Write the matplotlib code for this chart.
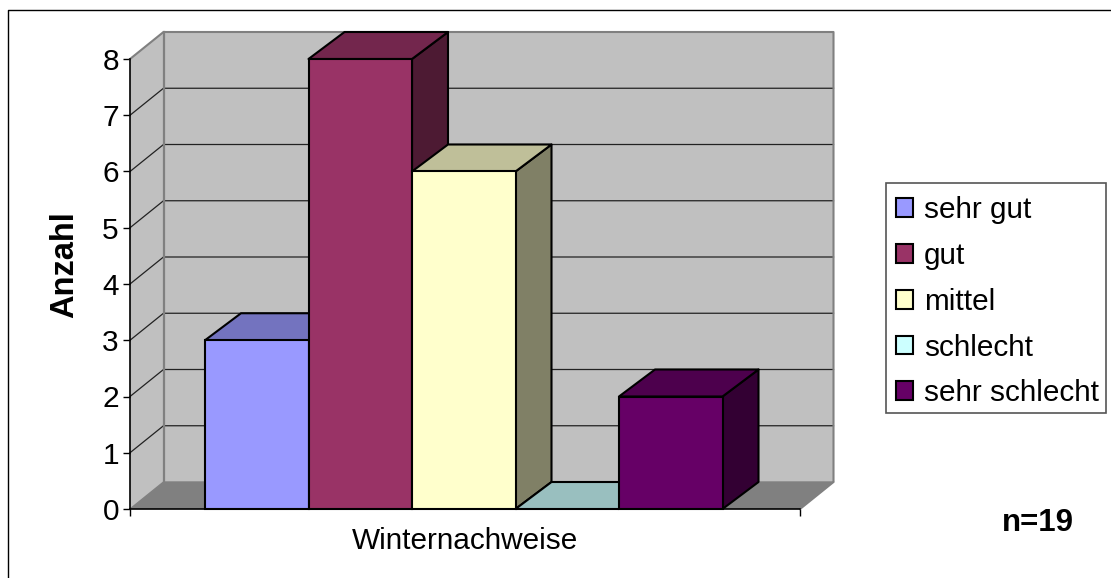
import matplotlib
matplotlib.use("Agg")
import matplotlib.pyplot as plt
from matplotlib.lines import Line2D
from matplotlib.patches import Polygon, Patch, Rectangle

plt.rcParams['font.family'] = ['Liberation Sans', 'DejaVu Sans']

# --- data ---
categories = ["sehr gut", "gut", "mittel", "schlecht", "sehr schlecht"]
values = [3, 8, 6, 0, 2]
group_label = "Winternachweise"
y_label = "Anzahl"
note = "n=19"
y_ticks = list(range(0, 9))

# --- styles ---
front_colors = ["#9999FF", "#993366", "#FFFFCC", "#CCFFFF", "#660066"]
top_colors = ["#7373BF", "#73264D", "#BFBF99", "#99BFBF", "#4D004D"]
side_colors = ["#4D4D80", "#4D1A33", "#808066", "#668080", "#330033"]
WALL = "#C0C0C0"
FLOOR = "#808080"
EDGE = "#808080"

W, H = 1111, 578
fig = plt.figure(figsize=(W / 100, H / 100), dpi=100, facecolor="white")
L, R, T, B = 130, 800, 59, 509
ax = fig.add_axes([L / W, 1 - B / H, (R - L) / W, (B - T) / H])
ax.set_xlim(0, 1)
ax.set_ylim(0, 8)
ax.set_facecolor("none")

# 3-D depth expressed in data units
wx = 33.5 / (R - L)
wy = 27 / (B - T) * 8
bx = 36 / (R - L)
by = wy
ymax = y_ticks[-1]

# walls and floor
ax.add_patch(Polygon([(0, 0), (wx, wy), (wx, ymax + wy), (0, ymax)], fc=WALL, ec="none", zorder=1, clip_on=False))
ax.add_patch(Polygon([(wx, wy), (1 + wx, wy), (1 + wx, ymax + wy), (wx, ymax + wy)], fc=WALL, ec="none", zorder=1, clip_on=False))
ax.add_patch(Polygon([(0, 0), (1, 0), (1 + wx, wy), (wx, wy)], fc=FLOOR, ec="none", zorder=1, clip_on=False))

# grid lines
for t in y_ticks[1:-1]:
    ax.plot([0, wx, 1 + wx], [t, t + wy, t + wy], color="#222222", lw=0.9, zorder=2, clip_on=False)

# wall borders
ax.plot([0, wx, 1 + wx, 1 + wx, 1], [ymax, ymax + wy, ymax + wy, wy, 0], color=EDGE, lw=1.5, zorder=2, clip_on=False)
ax.plot([wx, wx], [wy, ymax + wy], color=EDGE, lw=1.6, zorder=2, clip_on=False)
ax.plot([0, wx, 1 + wx], [0, wy, wy], color=EDGE, lw=1.0, zorder=2, clip_on=False)

# bars
bw = 103.5 / (R - L)
x0 = 75 / (R - L)
z = 3
for i, v in enumerate(values):
    x = x0 + i * bw
    if v > 0:
        ax.add_patch(Polygon([(x + bw, 0), (x + bw + bx, by), (x + bw + bx, v + by), (x + bw, v)],
                             fc=side_colors[i], ec="black", lw=1.5, joinstyle="round", zorder=z, clip_on=False))
    ax.add_patch(Polygon([(x, v), (x + bw, v), (x + bw + bx, v + by), (x + bx, v + by)],
                         fc=top_colors[i], ec="black", lw=1.5, joinstyle="round", zorder=z, clip_on=False))
    if v > 0:
        ax.bar(x, v, width=bw, align="edge", color=front_colors[i], edgecolor="black", linewidth=1.5, zorder=z + 0.5, clip_on=False)
    z += 1

# axes
for s in ("top", "right"):
    ax.spines[s].set_visible(False)
for s in ("left", "bottom"):
    ax.spines[s].set_linewidth(1.2)
    ax.spines[s].set_color("black")
    ax.spines[s].set_zorder(20)
ax.set_yticks(y_ticks)
ax.set_xticks([0, 1])
ax.set_xticklabels([])
ax.set_xticks([0.5], [group_label], minor=True)
ax.tick_params(axis="y", length=5, width=1, labelsize=21.5, pad=3)
ax.tick_params(axis="x", which="major", length=5, width=1)
ax.tick_params(axis="x", which="minor", length=0, labelsize=21.4, pad=13)
ax.set_ylabel(y_label, fontsize=23.5, fontweight="bold", va="center")
ax.yaxis.set_label_coords((64.5 - L) / (R - L), 0.5 + (0.5 * (B + T) - 264.5) / (B - T))

# legend: box drawn separately so its margins can match the reference
fig.add_artist(Rectangle((886 / W, 1 - 413 / H), 220 / W, 230 / H, transform=fig.transFigure,
                         fc="white", ec="#555555", lw=1.2))
handles = [Patch(fc=c, ec="black", lw=1.5) for c in front_colors]
leg = fig.legend(handles, categories, loc="upper left", bbox_to_anchor=(895.5 / W, 1 - 196 / H),
                 bbox_transform=fig.transFigure, fontsize=21.4, frameon=False,
                 borderaxespad=0, borderpad=0,
                 labelspacing=0.6, handlelength=0.6, handleheight=0.6, handletextpad=0.36)

# note
fig.text(1038 / W, 1 - 523 / H, note, fontsize=22.5, fontweight="bold", ha="center", va="center")

# outer frame
fig.add_artist(Line2D([8 / W, 8 / W, 1], [0, 1 - 10 / H, 1 - 10 / H], color="black", lw=1.0))

fig.savefig("out.png", dpi=100, facecolor="white")
